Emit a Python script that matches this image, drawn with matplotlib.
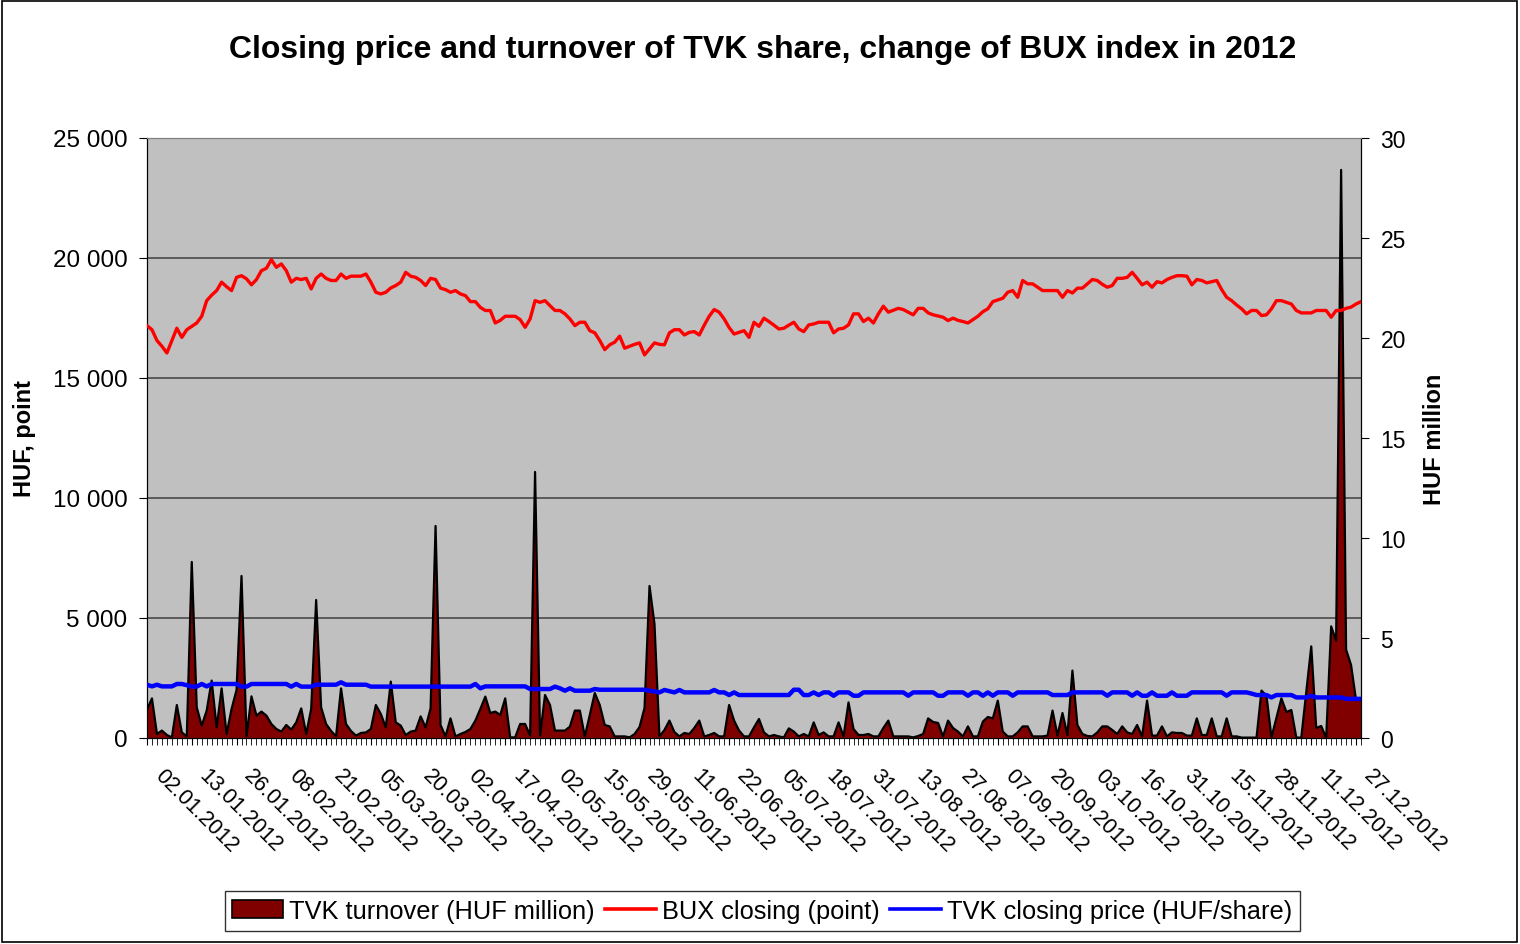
import numpy as np
import matplotlib
matplotlib.use("Agg")
import matplotlib.pyplot as plt
import matplotlib.ticker as ticker
import matplotlib.transforms as mtransforms
from matplotlib.patches import Patch, Rectangle
from matplotlib.lines import Line2D

plt.rcParams['font.family'] = ['Liberation Sans', 'DejaVu Sans']

# ==========================================
# data: one value per trading day of 2012 (02.01 .. 28.12)
# ==========================================
date_labels = ['02.01.2012', '13.01.2012', '26.01.2012', '08.02.2012', '21.02.2012',
               '05.03.2012', '20.03.2012', '02.04.2012', '17.04.2012', '02.05.2012',
               '15.05.2012', '29.05.2012', '11.06.2012', '22.06.2012', '05.07.2012',
               '18.07.2012', '31.07.2012', '13.08.2012', '27.08.2012', '07.09.2012',
               '20.09.2012', '03.10.2012', '16.10.2012', '31.10.2012', '15.11.2012',
               '28.11.2012', '11.12.2012', '27.12.2012']

# TVK turnover, HUF million (right axis)
turnover = [
    1.42, 1.98, 0.2, 0.37, 0.15, 0.03, 1.65, 0.28, 0.08, 8.8,
    1.53, 0.62, 1.37, 2.87, 0.53, 2.48, 0.2, 1.45, 2.4, 8.1,
    0.08, 2.08, 1.12, 1.32, 1.12, 0.7, 0.45, 0.32, 0.65, 0.42,
    0.78, 1.48, 0.2, 1.45, 6.9, 1.53, 0.7, 0.35, 0.08, 2.48,
    0.7, 0.35, 0.12, 0.25, 0.28, 0.45, 1.65, 1.2, 0.53, 2.82,
    0.78, 0.62, 0.15, 0.32, 0.37, 1.08, 0.53, 1.48, 10.6, 0.65,
    0.08, 0.98, 0.08, 0.2, 0.3, 0.45, 0.87, 1.45, 2.07, 1.25,
    1.32, 1.15, 1.98, 0.03, 0.03, 0.7, 0.7, 0.12, 13.3, 0.12,
    2.15, 1.65, 0.37, 0.37, 0.37, 0.57, 1.37, 1.37, 0.08, 1.15,
    2.25, 1.65, 0.65, 0.58, 0.08, 0.08, 0.08, 0.03, 0.2, 0.55,
    1.5, 7.6, 5.7, 0.08, 0.4, 0.87, 0.3, 0.08, 0.25, 0.2,
    0.5, 0.87, 0.08, 0.15, 0.25, 0.08, 0.08, 1.65, 0.87, 0.37,
    0.08, 0.08, 0.53, 0.95, 0.28, 0.08, 0.15, 0.08, 0.03, 0.48,
    0.32, 0.08, 0.2, 0.08, 0.78, 0.15, 0.28, 0.08, 0.08, 0.78,
    0.08, 1.78, 0.45, 0.15, 0.15, 0.2, 0.08, 0.08, 0.5, 0.87,
    0.08, 0.08, 0.08, 0.08, 0.03, 0.1, 0.2, 0.98, 0.8, 0.75,
    0.08, 0.87, 0.5, 0.32, 0.08, 0.58, 0.08, 0.08, 0.82, 1.05,
    0.98, 1.87, 0.32, 0.08, 0.08, 0.28, 0.58, 0.58, 0.08, 0.08,
    0.08, 0.12, 1.37, 0.12, 1.25, 0.15, 3.37, 0.65, 0.2, 0.1,
    0.08, 0.28, 0.58, 0.58, 0.4, 0.2, 0.58, 0.28, 0.2, 0.65,
    0.08, 1.87, 0.12, 0.12, 0.58, 0.08, 0.28, 0.25, 0.25, 0.12,
    0.12, 0.98, 0.15, 0.15, 0.98, 0.08, 0.08, 0.98, 0.08, 0.08,
    0.02, 0.02, 0.02, 0.02, 2.37, 2.12, 0.03, 1.0, 1.98, 1.3,
    1.4, 0.02, 0.02, 2.3, 4.58, 0.5, 0.6, 0.0, 5.58, 4.87,
    28.4, 4.42, 3.65, 1.9, 1.9,
]

# BUX closing, points (left axis)
bux = [
    17180, 17010, 16560, 16320, 16040, 16550, 17070, 16690, 17010, 17150,
    17290, 17570, 18220, 18450, 18640, 18990, 18800, 18640, 19190, 19260,
    19130, 18880, 19100, 19470, 19570, 19930, 19610, 19750, 19470, 18990,
    19150, 19100, 19150, 18710, 19150, 19330, 19150, 19060, 19060, 19330,
    19150, 19240, 19240, 19240, 19330, 18990, 18570, 18500, 18570, 18750,
    18850, 18990, 19400, 19240, 19190, 19060, 18850, 19150, 19100, 18740,
    18680, 18570, 18640, 18500, 18430, 18180, 18180, 17940, 17810, 17810,
    17290, 17400, 17570, 17570, 17570, 17430, 17110, 17460, 18220, 18150,
    18220, 18010, 17810, 17810, 17670, 17460, 17180, 17320, 17320, 16970,
    16880, 16560, 16180, 16380, 16490, 16740, 16240, 16320, 16400, 16460,
    15960, 16210, 16460, 16400, 16380, 16880, 17010, 17010, 16790, 16900,
    16930, 16790, 17200, 17570, 17850, 17740, 17460, 17100, 16830, 16900,
    16970, 16690, 17320, 17150, 17490, 17350, 17200, 17040, 17070, 17200,
    17320, 17040, 16930, 17210, 17250, 17320, 17320, 17320, 16880, 17040,
    17070, 17210, 17670, 17670, 17350, 17490, 17290, 17670, 17990, 17740,
    17820, 17900, 17850, 17740, 17630, 17900, 17900, 17710, 17630, 17580,
    17530, 17390, 17490, 17400, 17350, 17290, 17430, 17570, 17760, 17880,
    18180, 18250, 18320, 18570, 18640, 18360, 19060, 18920, 18920, 18780,
    18640, 18640, 18640, 18640, 18360, 18640, 18540, 18740, 18740, 18920,
    19100, 19060, 18900, 18780, 18850, 19150, 19150, 19190, 19400, 19150,
    18880, 18990, 18780, 19010, 18960, 19100, 19190, 19260, 19260, 19240,
    18880, 19100, 19060, 18960, 19010, 19060, 18680, 18360, 18220, 18040,
    17880, 17670, 17810, 17810, 17600, 17630, 17880, 18220, 18220, 18150,
    18080, 17810, 17710, 17710, 17710, 17810, 17810, 17810, 17530, 17810,
    17810, 17900, 17950, 18080, 18180,
]

# TVK closing price, HUF/share (left axis)
tvk = [
    2220, 2150, 2220, 2150, 2150, 2150, 2250, 2250, 2200, 2140,
    2140, 2250, 2150, 2250, 2250, 2250, 2250, 2250, 2250, 2140,
    2140, 2250, 2250, 2250, 2250, 2250, 2250, 2250, 2250, 2140,
    2250, 2140, 2140, 2140, 2220, 2220, 2220, 2220, 2220, 2320,
    2220, 2220, 2220, 2220, 2220, 2140, 2140, 2140, 2140, 2140,
    2140, 2140, 2140, 2140, 2140, 2140, 2140, 2140, 2140, 2140,
    2140, 2140, 2140, 2140, 2140, 2140, 2250, 2070, 2150, 2150,
    2150, 2150, 2150, 2150, 2150, 2150, 2150, 2040, 2040, 2040,
    2040, 2040, 2140, 2070, 1970, 2070, 1970, 1970, 1970, 1970,
    2040, 2010, 2010, 2010, 2010, 2010, 2010, 2010, 2010, 2010,
    2010, 1970, 1940, 1900, 2000, 1950, 1900, 2000, 1900, 1900,
    1900, 1900, 1900, 1900, 2000, 1900, 1900, 1790, 1900, 1790,
    1790, 1790, 1790, 1790, 1790, 1790, 1790, 1790, 1790, 1790,
    2010, 2010, 1790, 1790, 1900, 1790, 1900, 1900, 1760, 1900,
    1900, 1900, 1760, 1760, 1900, 1900, 1900, 1900, 1900, 1900,
    1900, 1900, 1900, 1760, 1900, 1900, 1900, 1900, 1900, 1760,
    1760, 1900, 1900, 1900, 1900, 1760, 1900, 1900, 1760, 1900,
    1760, 1900, 1900, 1900, 1760, 1900, 1900, 1900, 1900, 1900,
    1900, 1900, 1790, 1790, 1790, 1790, 1900, 1900, 1900, 1900,
    1900, 1900, 1900, 1760, 1900, 1900, 1900, 1900, 1760, 1900,
    1760, 1760, 1900, 1760, 1760, 1760, 1900, 1760, 1760, 1760,
    1900, 1900, 1900, 1900, 1900, 1900, 1900, 1760, 1900, 1900,
    1900, 1900, 1850, 1790, 1790, 1790, 1690, 1790, 1790, 1790,
    1790, 1690, 1690, 1690, 1760, 1690, 1690, 1690, 1690, 1690,
    1690, 1630, 1630, 1630, 1630,
]

n_days = len(bux)
label_step = 9  # one date label every 9 trading days

# ==========================================
# figure
# ==========================================
fig = plt.figure(figsize=(15.2, 9.45), dpi=100)
fig.patches.append(Rectangle((0.0015, 0.002), 0.9965, 0.996, transform=fig.transFigure,
                             fill=False, edgecolor='black', lw=1.2))

ax_p = fig.add_axes([0.0967, 0.218, 0.7987, 0.635])   # prices (left)
ax_t = ax_p.twinx()                                    # turnover (right)
ax_t.set_zorder(0)
ax_p.set_zorder(1)
ax_p.patch.set_visible(False)
ax_t.patch.set_visible(True)
ax_t.set_facecolor('#c0c0c0')

ax_p.set_ylim(0, 25000)
ax_t.set_ylim(0, 30)
ax_p.set_xlim(0, n_days - 1)

# horizontal gridlines (left-axis steps), behind the turnover area
grid_tr = mtransforms.blended_transform_factory(ax_t.transAxes, ax_p.transData)
for gy in [5000, 10000, 15000, 20000]:
    ax_t.plot([0, 1], [gy, gy], transform=grid_tr, color='#404040', lw=1.1, zorder=0.5)

x_t = np.arange(len(turnover))
ax_t.fill_between(x_t, turnover, 0, facecolor='#800000', edgecolor='none', zorder=1)
ax_t.plot(x_t, turnover, color='black', lw=1.6, zorder=2)

ax_p.plot(np.arange(len(bux)), bux, color='#ff0000', lw=2.4, zorder=3)
ax_p.plot(np.arange(len(tvk)), tvk, color='#0000ff', lw=3.2, zorder=4)

# axes styling
for a in (ax_p, ax_t):
    for side in ['left', 'right', 'bottom']:
        a.spines[side].set_color('black')
    a.spines['top'].set_color('#808080')

ax_p.yaxis.set_major_locator(ticker.MultipleLocator(5000))
ax_p.yaxis.set_major_formatter(ticker.FuncFormatter(lambda v, p: f'{int(v):,}'.replace(',', ' ')))
ax_t.yaxis.set_major_locator(ticker.MultipleLocator(5))
ax_p.tick_params(axis='y', labelsize=17.5, length=6, direction='out', pad=8)
ax_t.tick_params(axis='y', labelsize=16.5, length=6, direction='out', pad=8)

ax_p.set_ylabel('HUF, point', fontsize=17, fontweight='bold', labelpad=12)
ax_t.set_ylabel('HUF million', fontsize=17, fontweight='bold', labelpad=12)

# category axis: a small tick per day, a date label every 9 days
ax_p.set_xticks(np.arange(0, n_days, label_step))
ax_p.set_xticklabels(date_labels)
ax_p.xaxis.set_minor_locator(ticker.MultipleLocator(1))
ax_p.tick_params(axis='x', which='both', length=5, direction='out', labelsize=15.5, pad=14)
ax_t.tick_params(axis='x', which='both', bottom=False, labelbottom=False)
shift = mtransforms.ScaledTranslation(18 / 100, 0, fig.dpi_scale_trans)
for lab in ax_p.get_xticklabels():
    lab.set_rotation(-45)
    lab.set_rotation_mode('anchor')
    lab.set_ha('left')
    lab.set_va('top')
    lab.set_transform(lab.get_transform() + shift)

fig.text(0.502, 0.947, 'Closing price and turnover of TVK share, change of BUX index in 2012',
         ha='center', va='center', fontsize=23, fontweight='bold')

handles = [Patch(facecolor='#800000', edgecolor='black', lw=1.2),
           Line2D([], [], color='#ff0000', lw=2.6),
           Line2D([], [], color='#0000ff', lw=2.6)]
names = ['TVK turnover (HUF million)', 'BUX closing (point)', 'TVK closing price (HUF/share)']
leg = fig.legend(handles, names, loc='center', bbox_to_anchor=(0.5016, 0.0349), ncol=3,
                 fontsize=18.3, frameon=True, fancybox=False, edgecolor='black',
                 handlelength=2.0, handletextpad=0.25, columnspacing=0.4,
                 borderpad=0.3)
leg.get_frame().set_linewidth(1.0)

fig.savefig('out.png', dpi=100)
